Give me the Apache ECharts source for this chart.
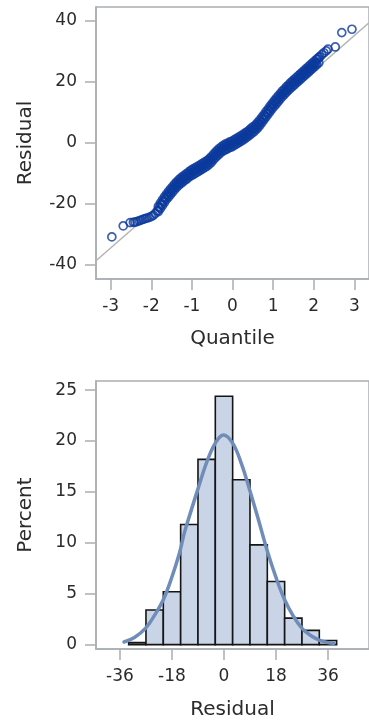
<!DOCTYPE html>
<html><head><meta charset="utf-8">
<script src="https://cdn.jsdelivr.net/npm/echarts@6/dist/echarts.min.js"></script>
<style>html,body{margin:0;padding:0;background:#fff}#c{width:369px;height:726px}</style>
</head><body><div id="c"></div>
<script>
// ---- Q-Q plot data (normal quantile, residual) ----
const qqQuantile = [
-2.97,-2.69,-2.52,-2.44,-2.40,
-2.35,-2.30,-2.25,-2.20,-2.15,-2.10,-2.05,-2.00,-1.95,-1.90,-1.85,-1.80,-1.75,-1.70,-1.65,-1.60,-1.55,-1.50,-1.45,-1.40,-1.35,-1.30,-1.25,-1.20,-1.15,-1.10,-1.05,-1.00,-0.95,-0.90,-0.85,-0.80,-0.75,-0.70,-0.65,-0.60,-0.55,-0.50,-0.45,-0.40,-0.35,-0.30,-0.25,-0.20,-0.15,-0.10,-0.05,0.00,0.05,0.10,0.15,0.20,0.25,0.30,0.35,0.40,0.45,0.50,0.55,0.60,0.65,0.70,0.75,0.80,0.85,0.90,0.95,1.00,1.05,1.10,1.15,1.20,1.25,1.30,1.35,1.40,1.45,1.50,1.55,1.60,1.65,1.70,1.75,1.80,1.85,1.90,1.95,2.00,2.05,2.10,2.15,2.20,2.25,
-1.825,-1.775,-1.725,-1.675,-1.625,-1.575,-1.525,-1.475,-1.425,-1.375,-1.325,-1.275,-1.225,-1.175,-1.125,-1.075,-1.025,-0.975,-0.925,-0.875,-0.825,-0.775,-0.725,-0.675,-0.625,-0.575,-0.525,-0.475,-0.425,-0.375,-0.325,-0.275,-0.225,-0.175,-0.125,-0.075,-0.025,0.025,0.075,0.125,0.175,0.225,0.275,0.325,0.375,0.425,0.475,0.525,0.575,0.625,0.675,0.725,0.775,0.825,0.875,0.925,0.975,1.025,1.075,1.125,1.175,1.225,1.275,1.325,1.375,1.425,1.475,1.525,1.575,1.625,1.675,1.725,1.775,1.825,1.875,1.925,1.975,2.025,2.075,2.125,
-1.825,-1.775,-1.725,-1.675,-1.625,-1.575,-1.525,-1.475,-1.425,-1.375,-1.325,-1.275,-1.225,-1.175,-1.125,-1.075,-1.025,-0.975,-0.925,-0.875,-0.825,-0.775,-0.725,-0.675,-0.625,-0.575,-0.525,-0.475,-0.425,-0.375,-0.325,-0.275,-0.225,-0.175,-0.125,-0.075,-0.025,0.025,0.075,0.125,0.175,0.225,0.275,0.325,0.375,0.425,0.475,0.525,0.575,0.625,0.675,0.725,0.775,0.825,0.875,0.925,0.975,1.025,1.075,1.125,1.175,1.225,1.275,1.325,1.375,1.425,1.475,1.525,1.575,1.625,1.675,1.725,1.775,1.825,1.875,1.925,1.975,2.025,2.075,2.125,
2.31,2.35,2.53,2.69,2.94
];
const qqResidual = [
-30.8,-27.2,-26.1,-26.0,-25.9,
-25.8,-25.5,-25.3,-25.0,-24.8,-24.6,-24.4,-24.1,-23.7,-23.1,-22.2,-21.1,-20.1,-19.1,-18.1,-17.2,-16.4,-15.6,-14.8,-14.0,-13.3,-12.7,-12.1,-11.6,-11.1,-10.6,-10.1,-9.7,-9.3,-8.9,-8.5,-8.1,-7.7,-7.3,-6.9,-6.4,-5.8,-5.1,-4.3,-3.6,-3.0,-2.4,-1.9,-1.5,-1.1,-0.8,-0.5,-0.2,0.2,0.6,1.0,1.4,1.8,2.2,2.7,3.2,3.8,4.4,4.8,5.5,6.3,7.1,8.0,8.9,9.8,10.7,11.6,12.5,13.3,14.1,14.9,15.7,16.4,17.1,17.8,18.5,19.1,19.7,20.3,20.9,21.5,22.1,22.7,23.3,23.9,24.5,25.1,25.7,26.3,27.5,28.3,29.0,29.6,
-20.8,-21.5,-18.7,-19.5,-16.8,-17.7,-15.1,-16.1,-13.5,-14.5,-12.1,-13.3,-11.0,-12.2,-10.0,-11.2,-9.0,-10.4,-8.2,-9.6,-7.4,-8.8,-6.6,-8.0,-5.8,-7.0,-4.6,-5.6,-3.1,-4.2,-1.8,-3.0,-0.8,-2.2,-0.1,-1.5,0.5,-0.9,1.3,-0.1,2.1,0.7,2.9,1.6,3.8,2.6,5.0,3.7,6.0,5.0,7.6,6.7,9.3,8.5,11.1,10.3,12.9,12.0,14.6,13.6,16.2,15.2,17.6,16.6,19.0,17.9,20.3,19.1,21.5,20.3,22.7,21.5,23.9,22.7,25.1,23.9,26.3,25.1,27.5,26.3,
-22.5,-19.7,-20.5,-17.7,-18.5,-15.9,-16.9,-14.3,-15.3,-12.8,-13.9,-11.5,-12.8,-10.5,-11.8,-9.5,-10.8,-8.6,-10.0,-7.8,-9.2,-7.0,-8.4,-6.2,-7.6,-5.2,-6.4,-3.8,-4.9,-2.4,-3.6,-1.3,-2.6,-0.4,-1.9,0.3,-1.3,0.9,-0.5,1.7,0.3,2.5,1.1,3.4,2.1,4.4,3.2,5.5,4.3,6.8,5.8,8.5,7.6,10.3,9.4,12.1,11.2,13.8,12.8,15.4,14.4,17.0,15.9,18.4,17.3,19.7,18.5,20.9,19.7,22.1,20.9,23.3,22.1,24.5,23.3,25.7,24.5,26.9,25.7,28.1,
30.2,30.8,31.5,36.2,37.3
];
// reference line end points
const refQuantile = [-3.36, 3.36];
const refResidual = [-38.6, 39.4];
const qqXTicks = [-3, -2, -1, 0, 1, 2, 3];
const qqYTicks = [-40, -20, 0, 20, 40];

// ---- Histogram data ----
const binEdges = [-33, -27, -21, -15, -9, -3, 3, 9, 15, 21, 27, 33, 39];
const binPercent = [0.2, 3.4, 5.2, 11.8, 18.2, 24.4, 16.2, 9.8, 6.2, 2.6, 1.4, 0.4];
// fitted normal curve
const curveX = [-34.6, -31, -27.2, -24, -21, -18.2, -15.4, -13.7, -12, -9, -6, -3, -0.2, 3, 6, 9, 12, 15, 18, 21, 24, 27, 30, 33, 36, 38];
const curveY = [0.26, 0.7, 1.6, 2.9, 4.4, 6.5, 9.0, 11.0, 12.6, 15.3, 17.9, 19.8, 20.6, 19.8, 17.8, 15.1, 12.2, 9.2, 6.6, 4.4, 2.8, 1.6, 0.9, 0.45, 0.2, 0.12];
const histXTicks = [-36, -18, 0, 18, 36];
const histYTicks = [0, 5, 10, 15, 20, 25];

const FONT = 'DejaVu Sans';
const AX = '#a9aeb3';
const TXT = '#2b2b2b';

function axisCommon(ticks, name, gap, margin) {
  return {
    type: 'value', name: name, nameLocation: 'middle', nameGap: gap,
    nameTextStyle: { fontFamily: FONT, fontSize: 20, color: TXT },
    axisLine: { show: true, onZero: false, lineStyle: { color: AX, width: 1.5 } },
    axisTick: { show: true, inside: false, length: 11, customValues: ticks, lineStyle: { color: AX, width: 1.5 } },
    axisLabel: { customValues: ticks, margin: margin, fontFamily: FONT, fontSize: 17, color: TXT },
    splitLine: { show: false }
  };
}

const chart = echarts.init(document.getElementById('c'), null, { renderer: 'canvas' });
chart.setOption({
  backgroundColor: '#fff',
  animation: false,
  grid: [
    { left: 96, top: 7, width: 278, height: 272, show: true, borderColor: AX, borderWidth: 1.5, backgroundColor: 'transparent' },
    { left: 96, top: 381, width: 280, height: 268, show: true, borderColor: AX, borderWidth: 1.5, backgroundColor: 'transparent' }
  ],
  xAxis: [
    Object.assign(axisCommon(qqXTicks, 'Quantile', 50, 19), { gridIndex: 0, min: -3.36, max: 3.36 }),
    Object.assign(axisCommon(histXTicks, 'Residual', 51, 19), { gridIndex: 1, min: -44.3, max: 50.2 })
  ],
  yAxis: [
    Object.assign(axisCommon(qqYTicks, 'Residual', 60, 19), { gridIndex: 0, min: -44.6, max: 44.6 }),
    Object.assign(axisCommon(histYTicks, 'Percent', 60, 19), { gridIndex: 1, min: -0.43, max: 25.9 })
  ],
  series: [
    {
      type: 'line', xAxisIndex: 0, yAxisIndex: 0, symbol: 'none', z: 1,
      data: refQuantile.map((q, i) => [q, refResidual[i]]),
      lineStyle: { color: '#b4b4b4', width: 1.5 }
    },
    {
      type: 'scatter', xAxisIndex: 0, yAxisIndex: 0, z: 3,
      symbol: 'circle', symbolSize: 8, large: false,
      data: qqQuantile.map((q, i) => [q, qqResidual[i]]),
      itemStyle: { color: 'rgba(255,255,255,0)', borderColor: '#0b3a9c', borderWidth: 1.7 }
    },
    {
      type: 'custom', xAxisIndex: 1, yAxisIndex: 1, z: 2,
      data: binPercent.map((p, i) => [binEdges[i], binEdges[i + 1], p]),
      renderItem: function (params, api) {
        const a = api.coord([api.value(0), api.value(2)]);
        const b = api.coord([api.value(1), 0]);
        return { type: 'rect', shape: { x: a[0], y: a[1], width: b[0] - a[0], height: b[1] - a[1] },
          style: { fill: '#c9d5e6', stroke: '#151515', lineWidth: 1.6 } };
      }
    },
    {
      type: 'line', xAxisIndex: 1, yAxisIndex: 1, z: 4, symbol: 'none', smooth: 0.4,
      data: curveX.map((x, i) => [x, curveY[i]]),
      lineStyle: { color: '#6f8db8', width: 3.5, cap: 'round' }
    }
  ]
});
</script></body></html>
